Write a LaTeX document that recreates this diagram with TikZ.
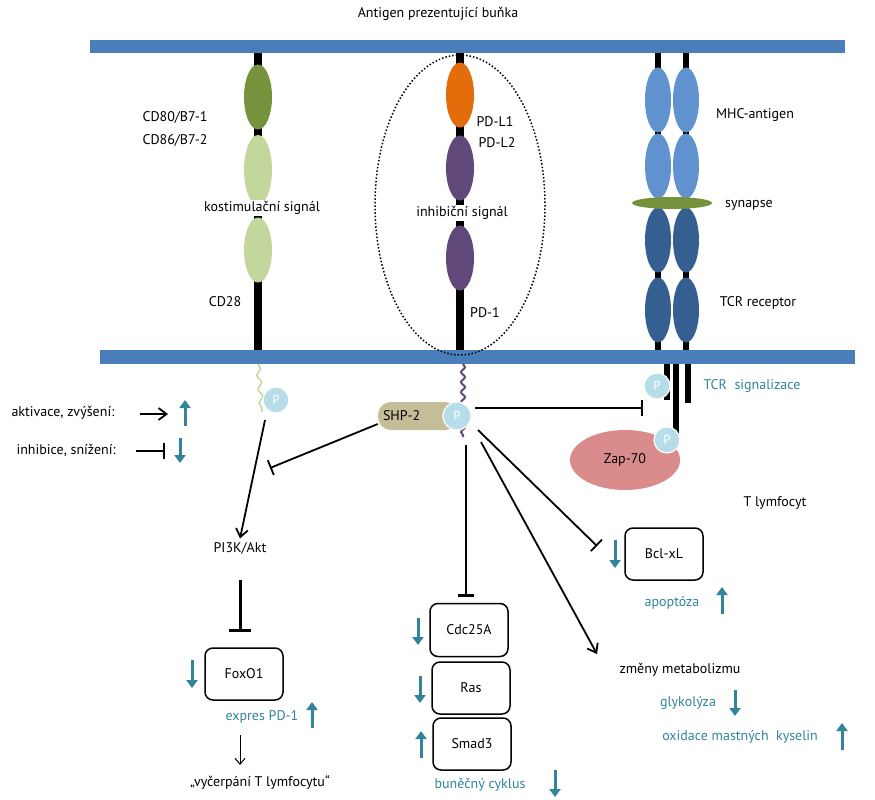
\documentclass[tikz,border=0pt]{standalone}
\usepackage{fontspec}
\setmainfont{PT Sans}
\usetikzlibrary{arrows.meta,decorations.pathmorphing,shapes.geometric}
\definecolor{memb}{RGB}{74,126,187}
\definecolor{olive}{RGB}{118,146,60}
\definecolor{lgreen}{RGB}{195,214,155}
\definecolor{orng}{RGB}{228,108,10}
\definecolor{purp}{RGB}{96,73,122}
\definecolor{lblue}{RGB}{95,146,206}
\definecolor{dblue}{RGB}{54,95,145}
\definecolor{pcol}{RGB}{183,221,232}
\definecolor{teal}{RGB}{49,132,155}
\definecolor{tan}{RGB}{196,189,151}
\definecolor{zap}{RGB}{218,140,140}
\begin{document}
\begin{tikzpicture}[x=1pt,y=-1pt,font=\fontsize{14}{16}\selectfont,
 ell/.style={ellipse,minimum width=28,minimum height=65,inner sep=0},
 pc/.style={circle,fill=pcol,draw=white,line width=1.2,minimum size=26,inner sep=0,text=white,font=\fontsize{13}{14}\selectfont},
 box/.style={draw,line width=1.5,rounded corners=8,minimum width=78,minimum height=52},
 up/.style={teal,line width=3,-{Triangle[length=8,width=11]}},
 act/.style={line width=1.8,-{Straight Barb[length=8,width=12]}},
 inh/.style={line width=1.8,-{Bar[width=16]}},
 tt/.style={text=teal},
 stem/.style={line width=8}]
\useasboundingbox (0,0) rectangle (875,800);
\node (title) at (438,14) {Antigen prezentující buňka};
% membranes
\fill[memb] (90,40) rectangle (845,53);
\fill[memb] (100,350) rectangle (855,364);
% CD80 column
\draw[stem] (258,53) -- (258,350);
\node[ell,fill=olive] (cd80) at (258,97) {};
\node[ell,fill=lgreen,minimum height=70] (cd86) at (258,170) {};
\node[ell,fill=lgreen] (cd28) at (258,250) {};
\node (l80) at (175,117) {CD80/B7-1};
\node (l86) at (175,140) {CD86/B7-2};
\node[fill=white,inner sep=1] (lko) at (262,208) {kostimulační signál};
\node (l28) at (225,302) {CD28};
% PD column
\draw[stem] (460,53) -- (460,350);
\node[ell,fill=orng] (pdl1) at (460,95) {};
\node[ell,fill=purp] (pdl2) at (460,168) {};
\node[ell,fill=purp] (pd1) at (460,258) {};
\node (lpl1) at (495,122) {PD-L1};
\node (lpl2) at (497,143) {PD-L2};
\node[fill=white,inner sep=1] (linh) at (462,213) {inhibiční signál};
\node (lpd1) at (485,313) {PD-1};
\draw[line width=1.5,dotted] (460,205) ellipse (85 and 150);
% MHC/TCR
\foreach \x in {658,686}{
 \draw[line width=6] (\x,53) -- (\x,350);
 \node[ell,fill=lblue,minimum width=26] at (\x,100) {};
 \node[ell,fill=lblue,minimum width=26] at (\x,166) {};
 \node[ell,fill=dblue,minimum width=26] at (\x,240) {};
 \node[ell,fill=dblue,minimum width=26] at (\x,310) {};
}
\node[ellipse,fill=olive,minimum width=80,minimum height=12,inner sep=0] (syn) at (672,203) {};
\node (lmhc) at (755,115) {MHC-antigen};
\node (lsyn) at (749,205) {synapse};
\node (ltcr) at (758,303) {TCR receptor};
% below membrane
\draw[lgreen,line width=1.5,decorate,decoration={snake,amplitude=2,segment length=14}] (258,364) -- (262,412);
\node[pc] (p1) at (276,400) {P};
\draw[purp,line width=2,decorate,decoration={snake,amplitude=2,segment length=10}] (463,364) -- (463,437);
\node[fill=tan,rounded corners=13,minimum width=80,minimum height=28,inner sep=0,text width=70] (shp) at (418,416) {SHP-2};
\node[pc,minimum size=28] (p2) at (457,416) {P};
% legend
\node[anchor=west] (lakt) at (8,413) {aktivace, zvýšení:};
\coordinate (a1) at (140,414); \coordinate (a2) at (168,414);
\draw[act] (a1) -- (a2);
\coordinate (u1) at (185,426); \coordinate (u2) at (185,400);
\draw[up] (u1) -- (u2);
\node[anchor=west] (linhi) at (13,450) {inhibice, snížení:};
\coordinate (b1) at (136,451); \coordinate (b2) at (165,451);
\draw[inh,line width=2.5] (b1) -- (b2);
\coordinate (d1) at (180,438); \coordinate (d2) at (180,463);
\draw[up] (d1) -- (d2);
% TCR signalling
\draw[line width=6] (667,364) -- (667,400);
\draw[line width=6] (676,364) -- (676,440);
\draw[line width=6] (688,364) -- (688,403);
\node[pc] (p3) at (657,386) {P};
\node[ellipse,fill=zap,minimum width=110,minimum height=60,inner sep=0] (zap) at (625,460) {Zap-70};
\node[pc] (p4) at (667,440) {P};
\node[tt] (ltcrs) at (752,386) {TCR\ \ signalizace};
\node (ltl) at (775,503) {T lymfocyt};
% PI3K branch
\coordinate (s1) at (265,420);
\node (pi3k) at (240,548) {PI3K/Akt};
\draw[act] (s1) -- (pi3k.north);
\coordinate (ib) at (270,468);
\draw[inh] (shp.west) ++(0,8) coordinate (sw) -- (ib);
\coordinate (pk1) at (240,580); \coordinate (pk2) at (240,632);
\draw[inh,line width=3,-{Bar[width=22,line width=3.5]}] (pk1) -- (pk2);
\node[box] (foxo) at (244,674) {FoxO1};
\draw[up] (192,660) -- (192,688);
\node[tt] (lexp) at (262,717) {expres PD-1};
\draw[up] (312,728) -- (312,702);
\draw[line width=1,-{Straight Barb[length=6,width=10]}] (240,735) -- (240,765);
\node (lvyc) at (260,782) {„vyčerpání T lymfocytu“};
% SHP-2 targets
\draw[inh] (475,408) -- (643,408);
\coordinate (sv1) at (466,445); \coordinate (sv2) at (466,597);
\draw[inh,line width=2.5,-{Bar[width=16,line width=3]}] (sv1) -- (sv2);
\node[box,minimum height=53] (cdc) at (469,630) {Cdc25A};
\node[box] (ras) at (471,688) {Ras};
\node[box] (smad) at (472,744) {Smad3};
\draw[up] (418,618) -- (418,645);
\draw[up] (420,676) -- (420,703);
\draw[up] (421,758) -- (421,731);
\node[tt] (lbun) at (480,785) {buněčný cyklus};
\draw[up] (555,770) -- (555,797);
\coordinate (m1) at (481,442);
\node (lzm) at (680,670) {změny metabolizmu};
\draw[act] (m1) -- (597,654);
\coordinate (bc1) at (478,430);
\node[box] (bcl) at (664,554) {Bcl-xL};
\draw[inh] (bc1) -- (597,546);
\draw[up] (615,540) -- (615,568);
\node[tt] (lapo) at (672,603) {apoptóza};
\draw[up] (722,614) -- (722,587);
\node[tt] (lgly) at (688,703) {glykolýza};
\draw[up] (735,690) -- (735,716);
\node[tt] (loxi) at (740,737) {oxidace mastných\ \ kyselin};
\draw[up] (842,750) -- (842,723);
\end{tikzpicture}
\end{document}
